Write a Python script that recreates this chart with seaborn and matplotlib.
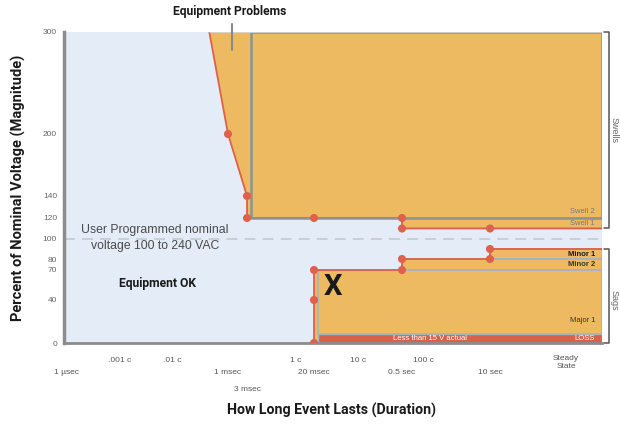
import numpy as np
import matplotlib.pyplot as plt
import matplotlib.transforms as mtransforms
from matplotlib.patches import Rectangle
import seaborn as sns

# tolerance boundaries: duration (seconds) vs percent of nominal voltage
swell_t = [0.00055, 0.001, 0.003, 0.003, 0.5, 0.5, 1000]
swell_pct = [300, 200, 140, 120, 120, 110, 110]
sag_t = [0.02, 0.02, 0.5, 0.5, 10, 10, 1000]
sag_pct = [0, 70, 70, 80, 80, 90, 90]

# marked points on the boundaries
swell_dot_t = [0.001, 0.003, 0.003, 0.02, 0.5, 0.5, 10]
swell_dot_pct = [200, 140, 120, 120, 120, 110, 110]
sag_dot_t = [0.02, 0.02, 0.02, 0.5, 0.5, 10, 10]
sag_dot_pct = [0, 40, 70, 70, 80, 80, 90]

# event classes (start duration, low %, high %)
box_names = ['Swell 2', 'Swell 1', 'Minor 1', 'Minor 2', 'Major 1', 'LOSS']
box_t0 = [0.0035, 0.5, 10, 0.5, 0.024, 0.024]
box_lo = [120, 110, 80, 70, 8.5, 0]
box_hi = [300, 120, 90, 80, 70, 8.5]
box_label_pct = [126, 115, 85, 75, 21, 4]

# axis ticks
y_ticks = [0, 40, 70, 80, 100, 120, 140, 200, 300]
time_ticks = [1e-6, 0.001, 0.003, 0.02, 0.5, 10]
time_labels = ['1 µsec', '1 msec', '3 msec', '20 msec', '0.5 sec', '10 sec']
cycle_ticks = [1 / 60000, 1 / 6000, 1 / 60, 10 / 60, 100 / 60, 100]
cycle_labels = ['.001 c', '.01 c', '1 c', '10 c', '100 c', 'Steady\nState']
t_end = 1000

# the chart uses uneven spacing on both axes -> piecewise scales
X_LOG = [-6.04, -6, np.log10(1 / 60000), np.log10(1 / 6000), -3, np.log10(0.003),
         np.log10(1 / 60), np.log10(0.02), np.log10(10 / 60), np.log10(0.5),
         np.log10(100 / 60), 1, 2, 3]
X_PX = [64, 66, 120, 172, 228, 247, 296, 314, 358, 402, 423, 490, 566, 602]
Y_PCT = [0, 40, 70, 80, 100, 120, 140, 200, 300]
Y_PX = [0, 43, 73, 84, 104, 125, 147, 209, 311]


def x_fwd(t):
    t = np.clip(np.asarray(t, dtype=float), 1e-12, None)
    return np.interp(np.log10(t), X_LOG, X_PX)


def x_inv(p):
    return 10 ** np.interp(np.asarray(p, dtype=float), X_PX, X_LOG)


def y_fwd(v):
    return np.interp(np.asarray(v, dtype=float), Y_PCT, Y_PX)


def y_inv(p):
    return np.interp(np.asarray(p, dtype=float), Y_PX, Y_PCT)


sns.set_style('white')
plt.rcParams['font.family'] = ['Liberation Sans', 'DejaVu Sans']
narrow = ['Roboto', 'DejaVu Sans']

ORANGE = '#EDBA62'
RED = '#E0604C'
BLUE_BG = '#E3ECF7'
BOX_EDGE = '#A6B4C2'

fig = plt.figure(figsize=(6.2, 4.25), dpi=100)
ax = fig.add_axes([64 / 620, 82 / 425, 538 / 620, 311 / 425])
ax.set_xscale('function', functions=(x_fwd, x_inv))
ax.set_yscale('function', functions=(y_fwd, y_inv))
ax.set_xlim(10 ** -6.04, t_end)
ax.set_ylim(0, 300)
ax.set_facecolor(BLUE_BG)

# problem regions
ax.fill(swell_t + [t_end], swell_pct + [300], color=ORANGE, lw=0, zorder=1)
ax.fill(sag_t + [t_end], sag_pct + [0], color=ORANGE, lw=0, zorder=1)
ax.axhline(100, color='#c7ccd3', lw=1.3, dashes=(6, 4), zorder=1.5)

# class boxes
for name, t0, lo, hi in zip(box_names, box_t0, box_lo, box_hi):
    if name == 'LOSS':
        ax.add_patch(Rectangle((t0, lo), t_end - t0, hi - lo, facecolor='#D9604B',
                               edgecolor=BOX_EDGE, lw=1, zorder=2))
    elif name == 'Swell 2':
        ax.add_patch(Rectangle((t0, lo), t_end - t0, hi - lo, fill=False,
                               edgecolor='#8d9393', lw=1.8, zorder=3.5))
    else:
        ax.add_patch(Rectangle((t0, lo), t_end - t0, hi - lo, fill=False,
                               edgecolor=BOX_EDGE, lw=1.2, zorder=2))
ax.axhline(300, xmin=(210 - 64) / 538, color='#d8d8d8', lw=1.2, zorder=3.6)

# boundary lines and points
sns.lineplot(x=swell_t, y=swell_pct, sort=False, estimator=None, color=RED, lw=1.3, ax=ax, zorder=3)
sns.lineplot(x=sag_t, y=sag_pct, sort=False, estimator=None, color=RED, lw=1.3, ax=ax, zorder=3)
sns.scatterplot(x=swell_dot_t, y=swell_dot_pct, color=RED, s=34, edgecolor='none', ax=ax, zorder=5)
sns.scatterplot(x=sag_dot_t, y=sag_dot_pct, color=RED, s=34, edgecolor='none', ax=ax, zorder=5)

# labels inside the boxes
label_colors = ['#7a7a7a', '#7a7a7a', '#1a1a1a', '#333333', '#333333', 'white']
label_weights = ['normal', 'normal', 'bold', 'bold', 'normal', 'normal']
trans = mtransforms.blended_transform_factory(ax.transAxes, ax.transData)
for name, lp, c, w in zip(box_names, box_label_pct, label_colors, label_weights):
    ax.text(0.987, lp, name, transform=trans, ha='right', va='center',
            fontsize=5.5, color=c, fontweight=w, zorder=6)
ax.text(0.68, 4, 'Less than 15 V actual', transform=trans, ha='center', va='center',
        fontsize=5.5, color='white', zorder=6)
ax.text(0.05, 53, 'X', ha='center', va='center', fontsize=21, fontweight='bold',
        family=narrow, color='#1a1a1a', zorder=6)

ax.text(0.169, 101, 'User Programmed nominal\nvoltage 100 to 240 VAC', transform=trans,
        ha='center', va='center', fontsize=8.8, color='#4a4a4a', linespacing=1.5, zorder=6)
ax.text(0.173, 57, 'Equipment OK', transform=trans, ha='center', va='center',
        fontsize=8.7, fontweight='bold', family=narrow, color='#1a1a1a', zorder=6)

# brackets on the right
ax.plot([1.004, 1.013, 1.013, 1.004], [300, 300, 110, 110], transform=trans,
        clip_on=False, color='#555555', lw=1.1)
ax.plot([1.004, 1.013, 1.013, 1.004], [90, 90, 0, 0], transform=trans,
        clip_on=False, color='#555555', lw=1.1)
ax.text(1.023, 204, 'Swells', transform=trans, rotation=270, ha='center', va='center',
        fontsize=6.5, color='#666666')
ax.text(1.023, 40, 'Sags', transform=trans, rotation=270, ha='center', va='center',
        fontsize=6.5, color='#666666')

# ticks
ax.set_yticks(y_ticks, [str(v) for v in y_ticks])
ax.tick_params(axis='y', length=0, pad=5, labelsize=6, labelcolor='#666666')
ax.set_xticks(time_ticks, time_labels)
ax.set_xticks(cycle_ticks, cycle_labels, minor=True)
ax.tick_params(axis='x', which='major', direction='out', length=12, width=1.3,
               color='#555555', pad=6.5, labelsize=6, labelcolor='#555555')
ax.tick_params(axis='x', which='minor', direction='inout', length=11, width=1.3,
               color='#444444', pad=4.3, labelsize=6, labelcolor='#555555')
tk = ax.xaxis.get_major_ticks()[2]
tk.set_pad(19)
tk.tick1line.set_markersize(24.5)
tk = ax.xaxis.get_minor_ticks()[5]
tk.set_pad(3.5)
tk.tick1line.set_markersize(0)

for s in ['top', 'right']:
    ax.spines[s].set_visible(False)
ax.spines['left'].set_color('#8c8c8c')
ax.spines['left'].set_linewidth(2.5)
ax.spines['bottom'].set_color('#8c8c8c')
ax.spines['bottom'].set_linewidth(2)

ax.set_xlabel('How Long Event Lasts (Duration)', fontsize=10.2, fontweight='bold',
              family=narrow, color='#1a1a1a', labelpad=0)
ax.xaxis.set_label_coords(0.498, -0.193)
ax.set_ylabel('Percent of Nominal Voltage (Magnitude)', fontsize=10.5, fontweight='bold',
              family=narrow, color='#1a1a1a')
ax.yaxis.set_label_coords(-0.0705, 0.5)

fig.text(230 / 620, 1 - 12 / 425, 'Equipment Problems', ha='center', va='center',
         fontsize=8.7, fontweight='bold', family=narrow, color='#1a1a1a')
fig.add_artist(plt.Line2D([232 / 620, 232 / 620], [1 - 24 / 425, 1 - 50 / 425],
                          color='#8a8a8a', lw=1.5))

fig.savefig('out.png', dpi=100)
